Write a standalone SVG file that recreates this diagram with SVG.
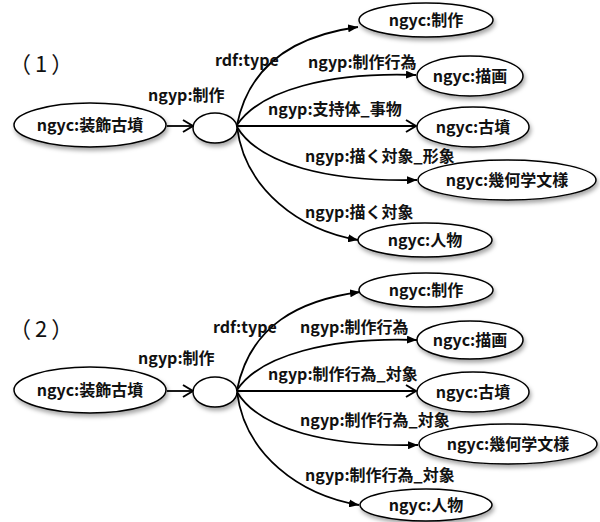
<svg xmlns="http://www.w3.org/2000/svg" width="600" height="522" viewBox="0 0 600 522">
<defs>
<filter id="sh" x="-20%" y="-30%" width="140%" height="170%">
<feDropShadow dx="1.5" dy="3" stdDeviation="2" flood-color="#000" flood-opacity="0.35"/>
</filter>
<marker id="tri" markerUnits="userSpaceOnUse" markerWidth="10" markerHeight="8" refX="10" refY="4" orient="auto">
<path d="M0,0 L10,4 L0,8 Z" fill="#000"/>
</marker>
<marker id="chev" markerUnits="userSpaceOnUse" markerWidth="12" markerHeight="14" refX="11" refY="7" orient="auto">
<path d="M1,1 L11,7 L1,13" fill="none" stroke="#000" stroke-width="2"/>
</marker>
</defs>
<style>
.n ellipse{fill:#fff;stroke:#000;stroke-width:1.5;filter:url(#sh)}
text{font-family:"Noto Sans CJK JP","Noto Sans",sans-serif;font-size:16px;font-weight:bold;fill:#111}
.n text{text-anchor:middle}
.num{font-weight:normal;font-size:22px;letter-spacing:4px}
.e path{fill:none;stroke:#000;stroke-width:1.8}
.t{marker-end:url(#tri)}
.c{marker-end:url(#chev)}
</style>

<text class="num" x="9" y="72">（1）</text>
<text class="num" x="9" y="337">（2）</text>

<g id="edges1" class="e">
<path class="c" d="M167,126 L193,126"/>
<path class="t" d="M237,125 C250,60 300,35 358,27"/>
<path class="t" d="M237,125 C260,90 330,72 416,75"/>
<path class="c" d="M237,126 L416,126"/>
<path class="t" d="M237,127 C260,165 330,182 417,180"/>
<path class="t" d="M237,127 C245,190 300,230 358,240"/>
</g>
<g id="elabels1">
<text x="148" y="101">ngyp:制作</text>
<text x="215" y="66">rdf:type</text>
<text x="308" y="68">ngyp:制作行為</text>
<text x="268" y="115">ngyp:支持体_事物</text>
<text x="305" y="162">ngyp:描く対象_形象</text>
<text x="305" y="218">ngyp:描く対象</text>
</g>

<g id="n1_soshoku" class="n"><ellipse cx="90" cy="125" rx="76" ry="22"/><text x="90" y="131">ngyc:装飾古墳</text></g>
<g id="n1_blank" class="n"><ellipse cx="215" cy="128" rx="22" ry="15"/></g>
<g id="n1_seisaku" class="n"><ellipse cx="426" cy="20" rx="67" ry="17"/><text x="426" y="26">ngyc:制作</text></g>
<g id="n1_byoga" class="n"><ellipse cx="470" cy="76" rx="53" ry="20"/><text x="470" y="82">ngyc:描画</text></g>
<g id="n1_kofun" class="n"><ellipse cx="473" cy="127" rx="56" ry="20"/><text x="473" y="133">ngyc:古墳</text></g>
<g id="n1_kika" class="n"><ellipse cx="507" cy="180" rx="89" ry="20"/><text x="507" y="186">ngyc:幾何学文様</text></g>
<g id="n1_jinbutsu" class="n"><ellipse cx="425" cy="240" rx="67" ry="17"/><text x="425" y="246">ngyc:人物</text></g>

<g id="edges2" class="e">
<path class="c" d="M167,391 L193,391"/>
<path class="t" d="M237,390 C250,325 300,300 360,292"/>
<path class="t" d="M237,390 C260,355 330,337 417,340"/>
<path class="c" d="M237,391 L416,391"/>
<path class="t" d="M237,392 C260,430 330,447 418,445"/>
<path class="t" d="M237,392 C245,455 300,495 359,505"/>
</g>
<g id="elabels2">
<text x="138" y="364">ngyp:制作</text>
<text x="213" y="333">rdf:type</text>
<text x="300" y="333">ngyp:制作行為</text>
<text x="268" y="380">ngyp:制作行為_対象</text>
<text x="300" y="426">ngyp:制作行為_対象</text>
<text x="305" y="481">ngyp:制作行為_対象</text>
</g>

<g id="n2_soshoku" class="n"><ellipse cx="90" cy="390" rx="76" ry="23"/><text x="90" y="396">ngyc:装飾古墳</text></g>
<g id="n2_blank" class="n"><ellipse cx="215" cy="392" rx="22" ry="15"/></g>
<g id="n2_seisaku" class="n"><ellipse cx="426" cy="290" rx="67" ry="17"/><text x="426" y="296">ngyc:制作</text></g>
<g id="n2_byoga" class="n"><ellipse cx="470" cy="340" rx="53" ry="19"/><text x="470" y="346">ngyc:描画</text></g>
<g id="n2_kofun" class="n"><ellipse cx="473" cy="392" rx="56" ry="20"/><text x="473" y="398">ngyc:古墳</text></g>
<g id="n2_kika" class="n"><ellipse cx="508" cy="444" rx="89" ry="20"/><text x="508" y="450">ngyc:幾何学文様</text></g>
<g id="n2_jinbutsu" class="n"><ellipse cx="426" cy="505" rx="66" ry="16"/><text x="426" y="511">ngyc:人物</text></g>
</svg>
